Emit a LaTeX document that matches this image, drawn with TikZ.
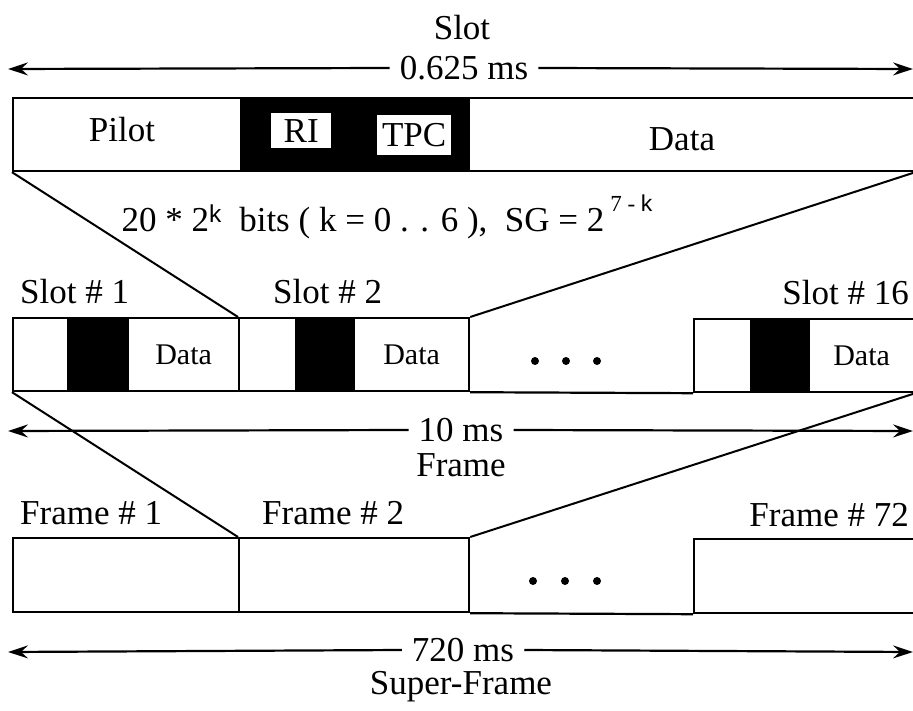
\documentclass[tikz,border=0pt]{standalone}
\usepackage{fontspec}
\setmainfont{Liberation Serif}
\newfontfamily\supfont{Liberation Sans}
\usetikzlibrary{arrows.meta,calc}
\begin{document}
\begin{tikzpicture}[x=1pt,y=-1pt,
  txt/.style={font=\fontsize{35}{40}\selectfont, inner sep=0pt},
  gaptxt/.style={txt, inner xsep=10pt},
  seg/.style={draw=black, line width=2.2pt, anchor=north west, inner sep=0pt,
              font=\fontsize{30}{36}\selectfont, fill=white},
  blk/.style={seg, fill=black},
  tag/.style={draw=none, fill=white, anchor=north west, inner sep=0pt,
              font=\fontsize{35}{40}\selectfont},
  link/.style={line width=2pt},
  base/.style={line width=2.2pt},
  dim/.style={line width=2.2pt, -{Stealth[length=20pt,width=13pt,inset=7pt]}},
  dot/.style={circle, fill=black, inner sep=0pt, minimum size=8pt}
]
\useasboundingbox (0,0) rectangle (913,711);
\clip (0,0) rectangle (913,711);
\fill[white] (0,0) rectangle (913,711);

% ---------- Slot (top) ----------
\node[txt] (slotT) at (462,28) {Slot};
\node[gaptxt] (d625) at (464,68) {0.625 ms};
\coordinate (d625L) at (8,69);
\coordinate (d625R) at (913,69);
\draw[dim] (d625.west) -- (d625L);
\draw[dim] (d625.east) -- (d625R);

\node[seg, minimum width=228pt, minimum height=73pt] (sPilot) at (12,97) {};
\node[txt] (sPilotT) at (122,130) {Pilot};
\node[blk, minimum width=228pt, minimum height=73pt] (sCtl) at (240,97) {};
\node[seg, minimum width=445pt, minimum height=73pt] (sData) at (468,97) {};
\node[txt] (sDataT) at (682,139) {Data};
\node[tag, minimum width=60pt, minimum height=35pt] (sRI) at (271,113) {RI};
\node[tag, minimum width=74pt, minimum height=40pt] (sTPC) at (377,115) {TPC};

\node[txt] (bits) at (387,217) {20 * 2\textsuperscript{\supfont k}~ bits ( k = 0 . . 6 ),~ SG = 2\,\raisebox{0.55em}{\fontsize{23}{26}\selectfont 7 - \supfont k}};

% ---------- Frame of slots ----------
\node[txt, anchor=base west] (l1) at (20,304) {Slot \# 1};
\node[txt, anchor=base west] (l2) at (273,304) {Slot \# 2};
\node[txt, anchor=base east] (l16) at (909,305) {Slot \# 16};

\node[seg, minimum width=55pt, minimum height=73pt] (a1) at (12,317) {};
\node[blk, minimum width=60pt, minimum height=73pt] (b1) at (67,317) {};
\node[seg, minimum width=111pt, minimum height=73pt] (c1) at (127,317) {Data};

\node[seg, minimum width=57pt, minimum height=73pt] (a2) at (238,317) {};
\node[blk, minimum width=58pt, minimum height=73pt] (b2) at (295,317) {};
\node[seg, minimum width=115pt, minimum height=73pt] (c2) at (353,317) {Data};

\node[seg, minimum width=57pt, minimum height=73pt] (a16) at (693,318) {};
\node[blk, minimum width=58pt, minimum height=73pt] (b16) at (750,318) {};
\node[seg, minimum width=105pt, minimum height=73pt] (c16) at (808,318) {Data};

\draw[base] (c2.south east) -- (a16.south west);
\node[dot] (sd1) at (535,361) {};
\node[dot] (sd2) at (566,361) {};
\node[dot] (sd3) at (597,361) {};

% expansion lines slot -> frame
\draw[link] (sPilot.south west) -- (a2.north west);
\draw[link] (sData.south east) -- (c2.north east);

\node[gaptxt] (d10) at (461,430) {10 ms};
\coordinate (d10L) at (8,431);
\coordinate (d10R) at (913,431);
\draw[dim] (d10.west) -- (d10L);
\draw[dim] (d10.east) -- (d10R);
\node[txt] (frameT) at (461,465) {Frame};

% ---------- Super-frame ----------
\node[txt, anchor=base west] (f1) at (20,524) {Frame \# 1};
\node[txt, anchor=base west] (f2) at (262,524) {Frame \# 2};
\node[txt, anchor=base east] (f72) at (909,526) {Frame \# 72};

\node[seg, minimum width=226pt, minimum height=74pt] (F1) at (12,537) {};
\node[seg, minimum width=230pt, minimum height=74pt] (F2) at (238,537) {};
\node[seg, minimum width=220pt, minimum height=74pt] (F72) at (693,538) {};
\draw[base] (F2.south east) -- (F72.south west);
\node[dot] (fd1) at (533,581) {};
\node[dot] (fd2) at (565,581) {};
\node[dot] (fd3) at (597,581) {};

\draw[link] (a1.south west) -- (F2.north west);
\draw[link] (c16.south east) -- (F2.north east);

\node[gaptxt] (d720) at (463,650) {720 ms};
\coordinate (d720L) at (8,652);
\coordinate (d720R) at (913,652);
\draw[dim] (d720.west) -- (d720L);
\draw[dim] (d720.east) -- (d720R);
\node[txt] (superT) at (461,687) {Super-Frame};
\end{tikzpicture}
\end{document}
